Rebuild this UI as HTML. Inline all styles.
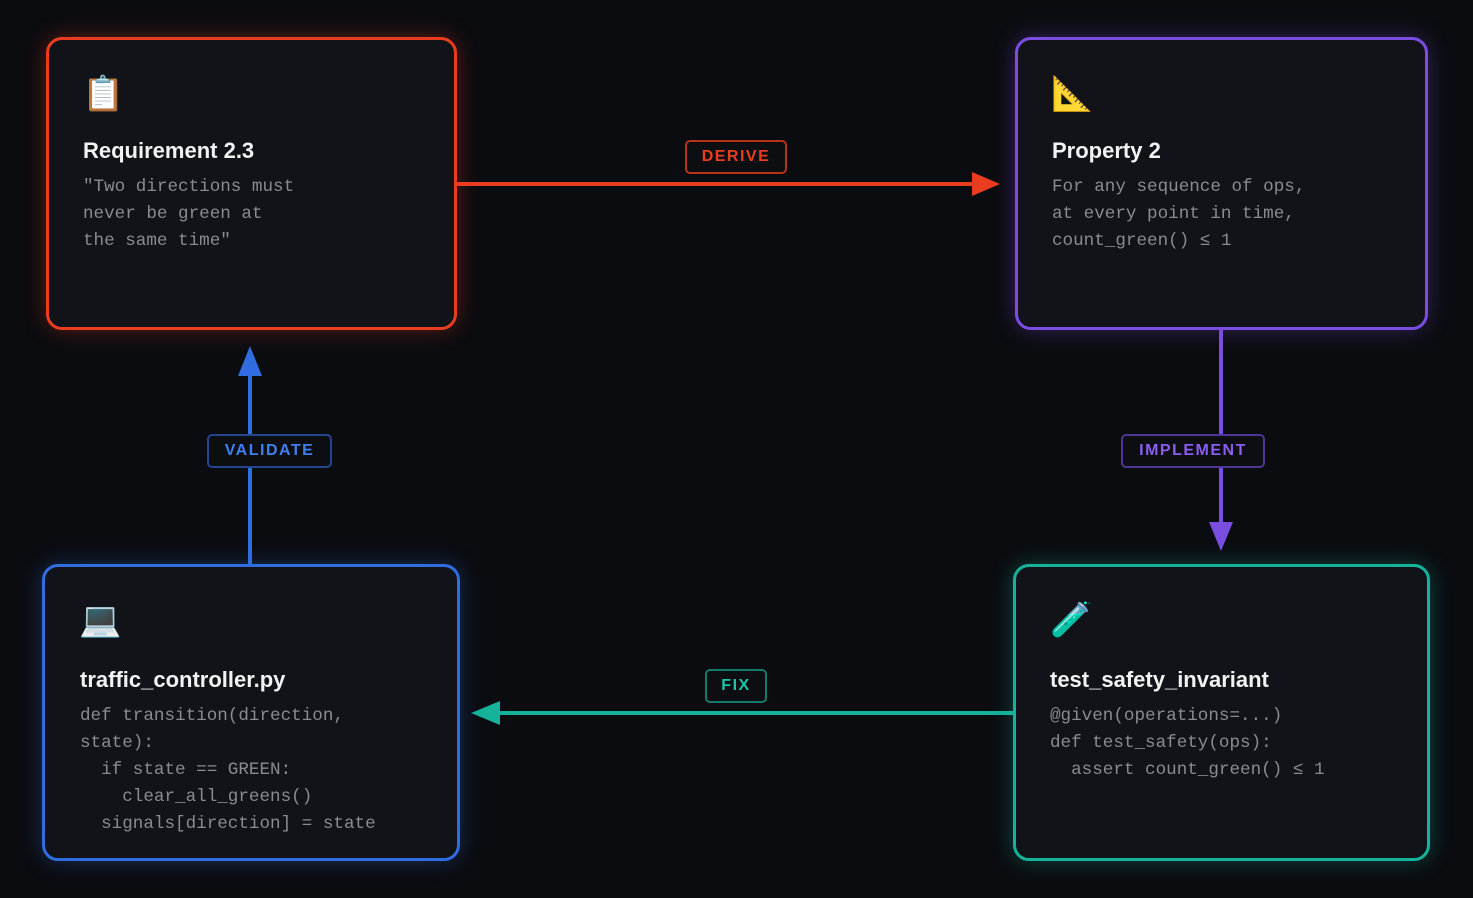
<!DOCTYPE html>
<html><head><meta charset="utf-8"><style>
body{margin:0;width:1473px;height:898px;background:#0b0c10;position:relative;overflow:hidden;font-family:"Liberation Sans",sans-serif}
.box{position:absolute;box-sizing:border-box;border:3px solid;border-radius:16px;background:#121319}
.ic{position:absolute;font-size:34px;line-height:40px}
.t{position:absolute;color:#f2f2f2;font-weight:bold;font-size:22px;white-space:nowrap}
.c{position:absolute;color:#8a8b90;font-family:"Liberation Mono",monospace;font-size:17.6px;line-height:27px;white-space:pre}
.pill{position:absolute;box-sizing:border-box;border:2px solid;border-radius:5px;background:#0d0e12;font-weight:bold;font-size:16px;letter-spacing:1.5px;text-align:center;line-height:29px}
</style></head><body>
<svg width="1473" height="898" style="position:absolute;left:0;top:0">
<line x1="456" y1="184" x2="975" y2="184" stroke="#ea3d1f" stroke-width="4"/>
<polygon points="1000,184 972,172 972,196" fill="#ea3d1f"/>
<line x1="1221" y1="329" x2="1221" y2="525" stroke="#7a4ee0" stroke-width="4"/>
<polygon points="1221,551 1209,522 1233,522" fill="#7a4ee0"/>
<line x1="1013" y1="713" x2="498" y2="713" stroke="#14b39a" stroke-width="4"/>
<polygon points="471,713 500,701 500,725" fill="#14b39a"/>
<line x1="250" y1="564" x2="250" y2="373" stroke="#2f6de0" stroke-width="4"/>
<polygon points="250,346 238,376 262,376" fill="#2f6de0"/>
</svg>
<div class="box" style="left:46px;top:37px;width:411px;height:293px;border-color:#ea3d1f;box-shadow:0 0 22px rgba(234,61,31,.35)"></div>
<div class="box" style="left:1015px;top:37px;width:413px;height:293px;border-color:#7a4ee0;box-shadow:0 0 22px rgba(122,78,224,.35)"></div>
<div class="box" style="left:42px;top:564px;width:418px;height:297px;border-color:#2f6de0;box-shadow:0 0 22px rgba(47,109,224,.35)"></div>
<div class="box" style="left:1013px;top:564px;width:417px;height:297px;border-color:#14b39a;box-shadow:0 0 22px rgba(20,179,154,.35)"></div>

<div class="ic" style="left:82px;top:74px">📋</div>
<div class="t" style="left:83px;top:138px">Requirement 2.3</div>
<div class="c" style="left:83px;top:174px">"Two directions must
never be green at
the same time"</div>

<div class="ic" style="left:1051px;top:74px;color:#9fb3d0">📐</div>
<div class="t" style="left:1052px;top:138px">Property 2</div>
<div class="c" style="left:1052px;top:174px">For any sequence of ops,
at every point in time,
count_green() ≤ 1</div>

<div class="ic" style="left:79px;top:600px">💻</div>
<div class="t" style="left:80px;top:667px">traffic_controller.py</div>
<div class="c" style="left:80px;top:703px">def transition(direction,
state):
  if state == GREEN:
    clear_all_greens()
  signals[direction] = state</div>

<div class="ic" style="left:1050px;top:600px">🧪</div>
<div class="t" style="left:1050px;top:667px">test_safety_invariant</div>
<div class="c" style="left:1050px;top:703px">@given(operations=...)
def test_safety(ops):
  assert count_green() ≤ 1</div>

<div class="pill" style="left:685px;top:140px;width:102px;height:34px;border-color:#b8321a;color:#ea3d1f">DERIVE</div>
<div class="pill" style="left:207px;top:434px;width:125px;height:34px;border-color:#24468f;color:#3f7ff0">VALIDATE</div>
<div class="pill" style="left:1121px;top:434px;width:144px;height:34px;border-color:#4f3596;color:#8a5ef0">IMPLEMENT</div>
<div class="pill" style="left:705px;top:669px;width:62px;height:34px;border-color:#137a6c;color:#1bc4a8">FIX</div>
</body></html>
